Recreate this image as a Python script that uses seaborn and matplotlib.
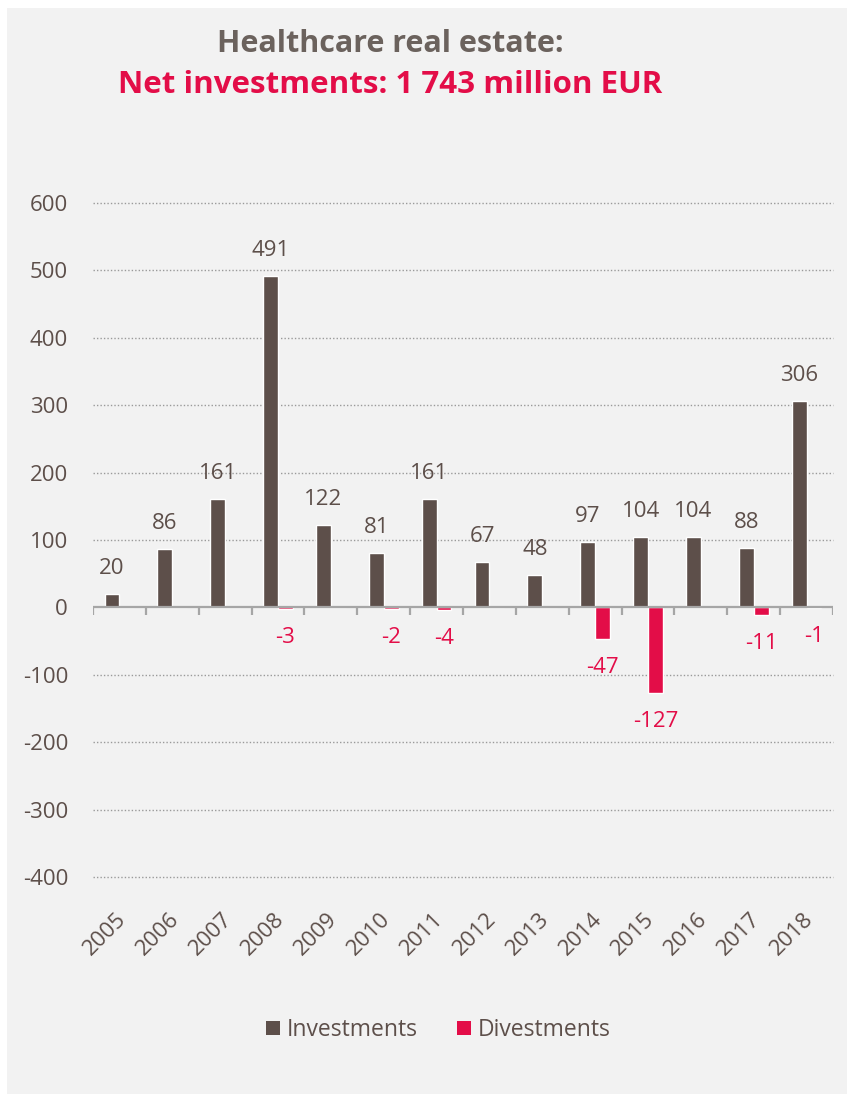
import matplotlib
matplotlib.use("Agg")
import matplotlib.pyplot as plt
import matplotlib.transforms as mtransforms
import pandas as pd
import seaborn as sns
from matplotlib.patches import Rectangle

years = [str(y) for y in range(2005, 2019)]
investments = [20, 86, 161, 491, 122, 81, 161, 67, 48, 97, 104, 104, 88, 306]
divestments = [0, 0, 0, -3, 0, -2, -4, 0, 0, -47, -127, 0, -11, -1]
series_names = ["Investments", "Divestments"]
y_ticks = [-400, -300, -200, -100, 0, 100, 200, 300, 400, 500, 600]

BROWN = "#5d4f4a"
RED = "#e30d48"
TEXT = "#5d4f4a"
BG = "#f2f2f2"

df = pd.DataFrame({
    "year": years * 2,
    "kind": [series_names[0]] * len(years) + [series_names[1]] * len(years),
    "value": investments + divestments,
})

sns.set_theme(style="white")
plt.rcParams["font.family"] = ["Open Sans", "DejaVu Sans"]

fig = plt.figure(figsize=(8.47, 11.01), dpi=100)
fig.patch.set_facecolor("white")
fig.add_artist(Rectangle((7 / 847, 7 / 1101), 840 / 847, 1086 / 1101,
                         transform=fig.transFigure, facecolor=BG,
                         edgecolor="none", zorder=-10))

ax = fig.add_axes([93 / 847, 1 - 877 / 1101, 740 / 847, 674 / 1101])
ax.set_facecolor(BG)

sns.barplot(data=df, x="year", y="value", hue="kind", palette=[BROWN, RED],
            width=0.56, gap=0, dodge=True, saturation=1, ax=ax, legend=False,
            errorbar=None)

ax.set_ylim(-400, 600)
ax.set_xlim(-0.5, len(years) - 0.5)
ax.set_yticks(y_ticks)
ax.set_yticklabels([str(v) for v in y_ticks])
ax.tick_params(axis="y", length=0, pad=18, labelsize=16, labelcolor=TEXT)
ax.tick_params(axis="x", length=0, pad=23, labelsize=16, labelcolor=TEXT,
               labelrotation=45)
shift = mtransforms.ScaledTranslation(-4 / 100, 0, fig.dpi_scale_trans)
for lbl in ax.get_xticklabels():
    lbl.set_ha("right")
    lbl.set_va("top")
    lbl.set_rotation_mode("anchor")
    lbl.set_transform(lbl.get_transform() + shift)
ax.set_xlabel("")
ax.set_ylabel("")
for s in ax.spines.values():
    s.set_visible(False)

# dotted gridlines except at zero
for v in y_ticks:
    if v != 0:
        ax.axhline(v, color="#9a9a9a", lw=1, ls=(0, (1, 1.5)), zorder=0,
                   clip_on=False)
ax.axhline(0, color="#a6a6a6", lw=1.6, zorder=3)
ax.vlines([i - 0.5 for i in range(len(years) + 1)], -12, 0,
          color="#a6a6a6", lw=1.6, zorder=3)

# value labels
inv_bars, div_bars = ax.containers[0], ax.containers[1]
ax.bar_label(inv_bars, labels=[str(v) for v in investments], padding=11,
             fontsize=16, color=TEXT)
ax.bar_label(div_bars, labels=[str(v) if v != 0 else "" for v in divestments],
             padding=13, fontsize=16, color=RED)

# titles
fig.text(390 / 847, 1 - 44 / 1101, "Healthcare real estate:", ha="center",
         va="center", fontsize=22, fontweight="bold", color="#6b625d")
fig.text(390 / 847, 1 - 85 / 1101, "Net investments: 1 743 million EUR",
         ha="center", va="center", fontsize=22.5, fontweight="bold", color=RED)

# legend
handles = [Rectangle((0, 0), 1, 1, facecolor=c, edgecolor="none")
           for c in (BROWN, RED)]
leg = fig.legend(handles, series_names, loc="center",
                 bbox_to_anchor=(438 / 847, 1 - 1030 / 1101), ncol=2,
                 frameon=False, fontsize=16.5, handlelength=0.62,
                 handleheight=0.62, handletextpad=0.3, columnspacing=1.7)
for t in leg.get_texts():
    t.set_color(TEXT)

fig.savefig("out.png", dpi=100, facecolor=fig.get_facecolor())
